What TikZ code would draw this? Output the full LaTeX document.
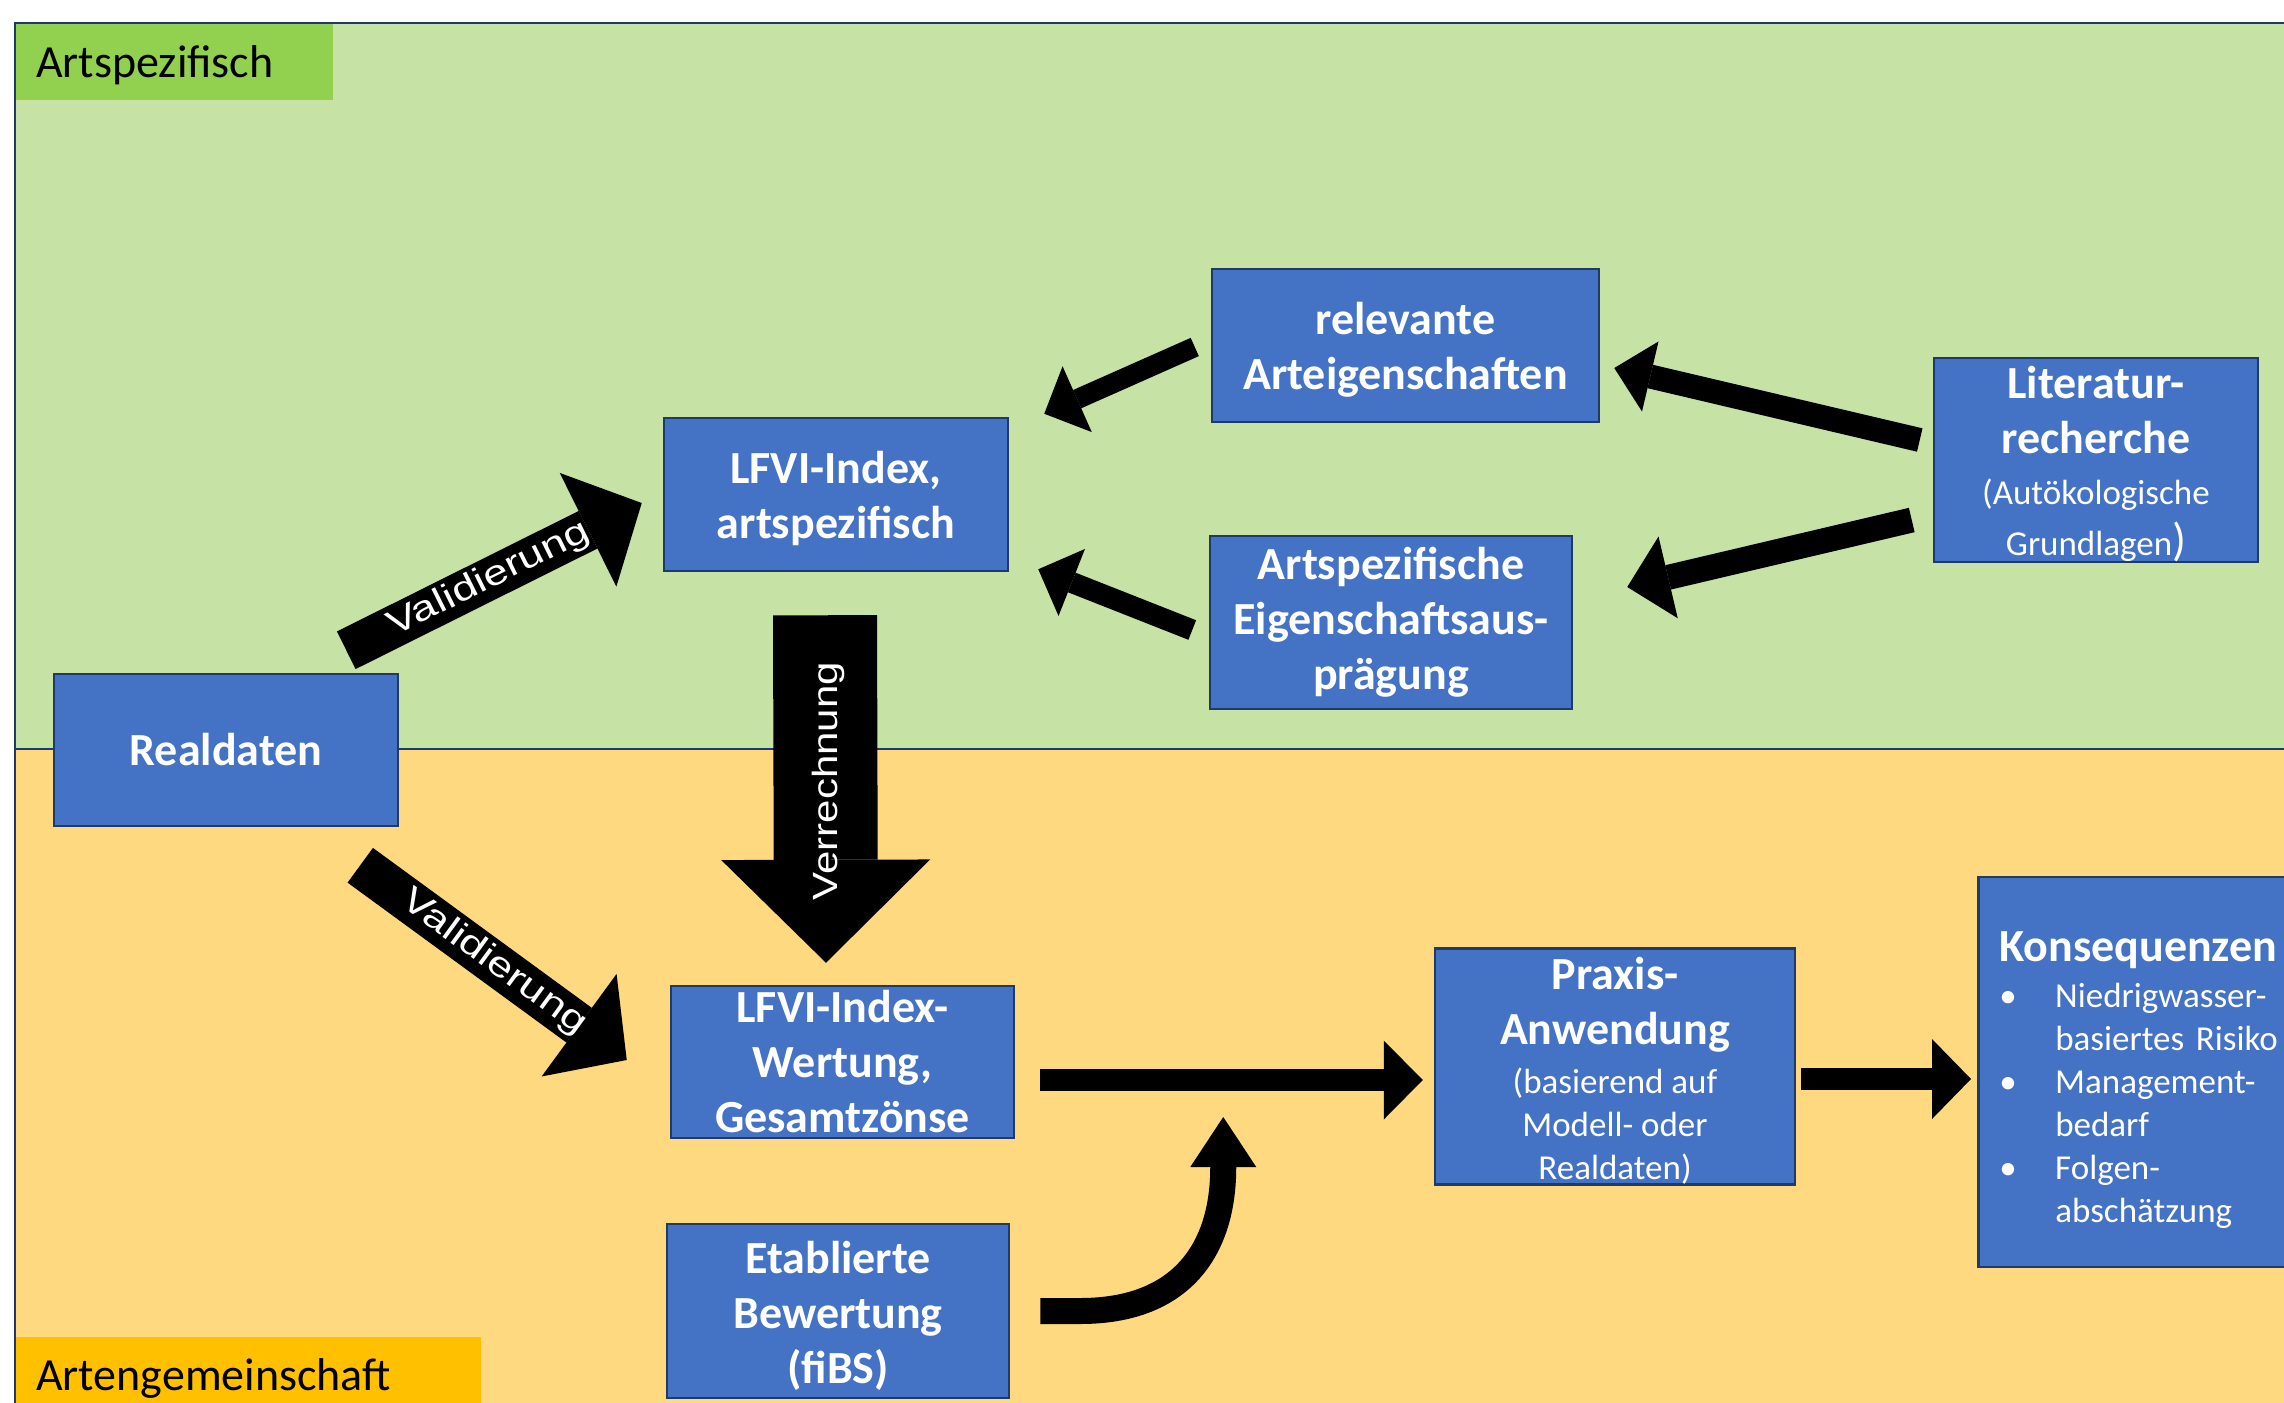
\documentclass[tikz,border=0pt]{standalone}
\usepackage{fontspec}
\setmainfont{Carlito}
\newfontfamily\arialf{Liberation Sans}
\usetikzlibrary{arrows.meta,calc}
\definecolor{bggreen}{HTML}{C6E3A5}
\definecolor{labgreen}{HTML}{92D050}
\definecolor{bgyellow}{HTML}{FFD97F}
\definecolor{labyellow}{HTML}{FFC000}
\definecolor{boxblue}{HTML}{4472C4}
\definecolor{navy}{HTML}{1F3A68}
\newcommand\subf{\fontsize{35}{43}\mdseries\selectfont}
\newcommand\bigf{\fontsize{46}{55}\selectfont}
\newcommand\fl{\rule{0pt}{41pt}}
\begin{document}
\begin{tikzpicture}[x=1pt,y=-1pt,
  box/.style={draw=navy, line width=2.5pt, fill=boxblue, text=white, inner sep=0pt, align=center,
    font=\fontsize{46}{55}\bfseries\selectfont},
  sz/.style 2 args={minimum width=#1pt, minimum height=#2pt},
  blk/.style n args={3}{black, line width=#1pt, -{Triangle[length=#2pt,width=#3pt,line width=0pt]}},
  arrlab/.style={text=white, inner sep=0pt, font=\arialf\fontsize{35}{42}\selectfont},
  lab/.style={anchor=base west, inner sep=0pt, text=black, font=\fontsize{46}{55}\selectfont}
]
\useasboundingbox (0,0) rectangle (2284,1403);
\clip (0,0) rectangle (2284,1403);
\fill[white] (0,0) rectangle (2284,1403);
\fill[bggreen] (15,23) rectangle (2300,749);
\fill[bgyellow] (15,749) rectangle (2300,1420);
\draw[navy, line width=2pt] (15,1420) -- (15,23) -- (2300,23);
\draw[navy, line width=2pt] (15,749) -- (2300,749);

% section labels
\node (labA) [fill=labgreen, inner sep=0pt, sz={317}{76}] at (174.5,62) {};
\node (labAt) [lab] at (36,77) {Artspezifisch};
\node (labB) [fill=labyellow, inner sep=0pt, sz={465}{73}] at (248.5,1373.5) {};
\node (labBt) [lab] at (36,1390) {Artengemeinschaft};

% boxes
\node (rel) [box, sz={387}{153}] at (1405.5,345.5) {\fl relevante\\Arteigenschaften};
\node (lit) [box, sz={324}{204}] at (2096,460) {\fl Literatur-\\recherche\\[-4pt]{\subf(Autökologische}\\[-4pt]{\subf Grundlagen\bigf)}};
\node (artspez) [box, sz={362}{173}] at (1391,622.5) {Artspezifische\\Eigenschaftsaus-\\prägung};
\node (lfvi) [box, sz={344}{153}] at (836,494.5) {\fl LFVI-Index,\\artspezifisch};
\node (real) [box, sz={344}{152}] at (226,750) {Realdaten};
\node (lfviw) [box, sz={343}{152}] at (842.5,1062) {LFVI-Index-\\Wertung,\\Gesamtzönse};
\node (etab) [box, sz={342}{174}] at (838,1311) {\fl Etablierte\\Bewertung\\(fiBS)};
\node (praxis) [box, sz={360}{233}] at (1615,1066.5) {\fl Praxis-\\Anwendung\\[-6pt]{\subf(basierend auf}\\[-12pt]{\subf Modell- oder}\\[-12pt]{\subf Realdaten)}};
\node (kons) [box, anchor=west, minimum height=390pt, text width=291pt, inner xsep=21pt, align=left, font=\subf] at (1977,1072)
  {\noindent\rule{0pt}{46pt}{\fontsize{46}{55}\bfseries\selectfont Konsequenzen}\\[3pt]
   \makebox[56pt][l]{•}Niedrigwasser-\\
   \hspace*{56pt}basiertes Risiko\\
   \makebox[56pt][l]{•}Management-\\
   \hspace*{56pt}bedarf\\
   \makebox[56pt][l]{•}Folgen-\\
   \hspace*{56pt}abschätzung};

% arrow end points
\coordinate (vu1) at ($(real.north east)+(-53,-22.5)$);
\coordinate (vu2) at ($(lfvi.west)+(-21,8.5)$);
\coordinate (vd1) at ($(real.south east)+(-39,38)$);
\coordinate (vd2) at ($(lfviw.west)+(-43,-2)$);
\coordinate (vr1) at ($(lfvi.south)+(-11,43)$);
\coordinate (vr2) at ($(lfviw.north)+(-16.5,-22)$);
\coordinate (ra1) at ($(rel.west)+(-16,1.5)$);
\coordinate (ra2) at ($(lfvi.north east)+(35,-3)$);
\coordinate (aa1) at ($(artspez.west)+(-16.5,7.5)$);
\coordinate (aa2) at ($(lfvi.south east)+(29,-3)$);
\coordinate (lr1) at ($(lit.west)+(-13,-20)$);
\coordinate (lr2) at ($(rel.east)+(14,22.5)$);
\coordinate (la1) at ($(lit.west)+(-21,60)$);
\coordinate (la2) at ($(artspez.east)+(54,-35.5)$);
\coordinate (wp1) at ($(lfviw.east)+(25,18)$);
\coordinate (wp2) at ($(praxis.west)+(-11,13.5)$);
\coordinate (pk1) at ($(praxis.east)+(5,12.5)$);
\coordinate (pk2) at ($(kons.west)+(-6,7)$);
\coordinate (cu1) at ($(etab.east)+(30,0)$);
\coordinate (cu2) at ($(etab.east)+(213,-194)$);

% block arrows
\draw[blk={42}{60}{127}] (vu1) -- (vu2);
\path (vu1) -- (vu2) node[arrlab, pos=0.483, sloped] (vut) {\scalebox{1.28}[1]{Validierung}};
\draw[blk={43}{59}{127}] (vd1) -- (vd2);
\path (vd1) -- (vd2) node[arrlab, pos=0.5, sloped] (vdt) {\scalebox{1.28}[1]{Validierung}};
\draw[blk={104}{103}{209}] (vr1) -- (vr2);
\node[arrlab, rotate=90] (vrt) at ($(vr1)+(3,166)$) {\scalebox{1.2}[1]{Verrechnung}};
\draw[blk={20}{36}{72}] (ra1) -- (ra2);
\draw[blk={21}{36}{72}] (aa1) -- (aa2);
\draw[blk={24}{37}{72}] (lr1) -- (lr2);
\draw[blk={25}{42}{84}] (la1) -- (la2);
\draw[blk={22}{39}{79}] (wp1) -- (wp2);
\draw[blk={22}{39}{80}] (pk1) -- (pk2);
\draw[blk={26}{50}{66}] (cu1) -- ($(cu1)+(40,0)$) .. controls ($(cu1)+(140,0)$) and ($(cu1)+(183,-60)$) .. ($(cu1)+(183,-144)$) -- (cu2);
\end{tikzpicture}
\end{document}
